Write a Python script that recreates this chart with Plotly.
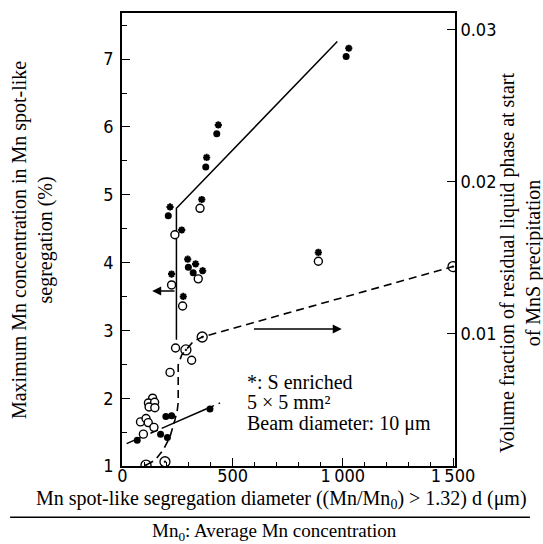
import plotly.graph_objects as go

# ---- data ----
filled_x = [67, 173, 204, 197, 223, 397, 208, 299, 321, 378, 428, 1015]
filled_y = [1.38, 1.47, 1.42, 1.73, 1.74, 1.84, 4.69, 3.93, 3.85, 5.41, 5.90, 7.04]

open_x = [137, 118, 146, 121, 147, 82, 107, 117, 143, 95, 216, 241, 314, 223, 273, 238, 344, 352, 889]
open_y = [2.00, 1.93, 1.94, 1.87, 1.86, 1.65, 1.70, 1.64, 1.57, 1.47, 2.38, 2.74, 2.56, 3.67, 3.36, 4.41, 3.76, 4.80, 4.02]

star_x = [216, 269, 360, 382, 435, 1027, 223, 276, 296, 332, 364, 889]
star_y = [4.82, 4.48, 4.93, 5.55, 6.03, 7.16, 3.83, 3.50, 4.05, 3.98, 3.88, 4.15]

vf_x = [107, 193, 288, 362, 1500]
vf_y = [0.00138, 0.0016, 0.00895, 0.0098, 0.01443]

curve_x = [107, 148, 185, 216, 238, 249, 253, 253, 269, 288, 321, 362, 1500]
curve_y = [0.00138, 0.0017, 0.00237, 0.00325, 0.00434, 0.005, 0.0055, 0.00796, 0.00862, 0.00895, 0.0095, 0.0098, 0.01443]

upper_x = [245, 245, 975]
upper_y = [2.86, 4.80, 7.26]

lower_x = [19, 178, 382, 443]
lower_y = [1.33, 1.555, 1.844, 1.93]

x_ticks = [0, 500, 1000, 1500]
x_ticktext = ["0", "500", "1\u2009000", "1\u2009500"]
y_ticks = [1, 2, 3, 4, 5, 6, 7]
y2_ticks = [0.01, 0.02, 0.03]

SERIF = "Liberation Serif, Times New Roman, serif"
NARROW = "DejaVu Sans Condensed, Liberation Sans, sans-serif"
DASH = "8px,5px"

fig = go.Figure()

fig.add_trace(go.Scatter(x=upper_x, y=upper_y, mode="lines",
                         line=dict(color="black", width=1.5), showlegend=False))
fig.add_trace(go.Scatter(x=lower_x[:2], y=lower_y[:2], mode="lines",
                         line=dict(color="black", width=1.5, dash=DASH), showlegend=False))
fig.add_trace(go.Scatter(x=lower_x[1:3], y=lower_y[1:3], mode="lines",
                         line=dict(color="black", width=1.5), showlegend=False))
fig.add_trace(go.Scatter(x=lower_x[2:], y=lower_y[2:], mode="lines",
                         line=dict(color="black", width=1.5, dash=DASH), showlegend=False))
fig.add_trace(go.Scatter(x=curve_x, y=curve_y, yaxis="y2", mode="lines",
                         line=dict(color="black", width=1.6, dash=DASH), showlegend=False))

fig.add_trace(go.Scatter(x=filled_x, y=filled_y, mode="markers",
                         marker=dict(symbol="circle", size=7, color="black"), showlegend=False))
fig.add_trace(go.Scatter(x=open_x, y=open_y, mode="markers",
                         marker=dict(symbol="circle", size=8, color="white",
                                     line=dict(color="black", width=1.4)), showlegend=False))
fig.add_trace(go.Scatter(x=star_x, y=star_y, mode="markers",
                         marker=dict(symbol="asterisk-open", size=6, color="black",
                                     line=dict(color="black", width=2)), showlegend=False))
fig.add_trace(go.Scatter(x=vf_x, y=vf_y, yaxis="y2", mode="markers",
                         marker=dict(symbol="circle-open-dot", size=10, color="black",
                                     line=dict(color="black", width=1.3)), showlegend=False))

fig.update_layout(
    width=543, height=544,
    margin=dict(l=122, r=88, t=13, b=78),
    plot_bgcolor="white", paper_bgcolor="white",
    font=dict(family=SERIF, size=20, color="black"),
    xaxis=dict(range=[-2, 1509], tickvals=x_ticks, ticktext=x_ticktext,
               ticks="inside", ticklen=8, tickwidth=1.3, tickcolor="black",
               minor=dict(dtick=100, ticks="inside", ticklen=4, tickcolor="black"),
               showline=True, linecolor="black", linewidth=1.6, mirror=True,
               showgrid=False, zeroline=False, automargin=False, ticklabelstandoff=-7,
               tickfont=dict(family=NARROW, size=18)),
    yaxis=dict(range=[1, 7.68], tickvals=y_ticks,
               ticks="inside", ticklen=8, tickwidth=1.3, tickcolor="black",
               minor=dict(dtick=0.5, ticks="inside", ticklen=5, tickcolor="black"),
               showline=True, linecolor="black", linewidth=1.6,
               showgrid=False, zeroline=False, automargin=False, ticklabelstandoff=3,
               tickfont=dict(family=NARROW, size=18)),
    yaxis2=dict(range=[0.00132, 0.0311], tickvals=y2_ticks, overlaying="y", side="right",
                ticks="inside", ticklen=8, tickwidth=1.3, tickcolor="black",
                showline=True, linecolor="black", linewidth=1.6,
                showgrid=False, zeroline=False, automargin=False,
                tickfont=dict(family=NARROW, size=18)),
)

ann = []
ann.append(dict(text="Maximum Mn concentration in Mn spot-like<br>segregation (%)",
                xref="paper", yref="paper", x=-0.267, y=0.499, textangle=-90,
                xanchor="center", yanchor="middle",
                showarrow=False, font=dict(family=SERIF, size=20)))
ann.append(dict(text="Volume fraction of residual liquid phase at start<br>of MnS precipitation",
                xref="paper", yref="paper", x=1.195, y=0.45, textangle=-90,
                xanchor="center", yanchor="middle",
                showarrow=False, font=dict(family=SERIF, size=20)))
ann.append(dict(text="Mn spot-like segregation diameter ((Mn/Mn<sub>0</sub>) > 1.32) d (\u03bcm)",
                xref="paper", yref="paper", x=0.48, y=-0.073,
                xanchor="center", yanchor="middle",
                showarrow=False, font=dict(family=SERIF, size=20)))
ann.append(dict(text="Mn<sub>0</sub>: Average Mn concentration",
                xref="paper", yref="paper", x=0.459, y=-0.146,
                xanchor="center", yanchor="middle",
                showarrow=False, font=dict(family=SERIF, size=19)))
for txt, yy in [("*: S enriched", 2.24), ("5 \u00d7 5 mm\u00b2", 1.94), ("Beam diameter: 10 \u03bcm", 1.63)]:
    ann.append(dict(text=txt, x=556, y=yy, xref="x", yref="y", xanchor="left", yanchor="middle",
                    showarrow=False, font=dict(family=SERIF, size=20)))
ann.append(dict(x=135, y=3.58, ax=243, ay=3.58, xref="x", yref="y", axref="x", ayref="y",
                text="", showarrow=True, arrowhead=2, arrowsize=1.2, arrowwidth=1.5, arrowcolor="black"))
ann.append(dict(x=995, y=3.02, ax=590, ay=3.02, xref="x", yref="y", axref="x", ayref="y",
                text="", showarrow=True, arrowhead=2, arrowsize=1.2, arrowwidth=1.5, arrowcolor="black"))
fig.update_layout(annotations=ann)

fig.add_shape(type="line", xref="paper", yref="paper", x0=-0.336, x1=1.225, y0=-0.113, y1=-0.113,
              line=dict(color="black", width=1.5))

fig.write_html("out.html", config={"displayModeBar": False},
               post_script="document.body.style.margin='0';document.body.style.padding='0';")
